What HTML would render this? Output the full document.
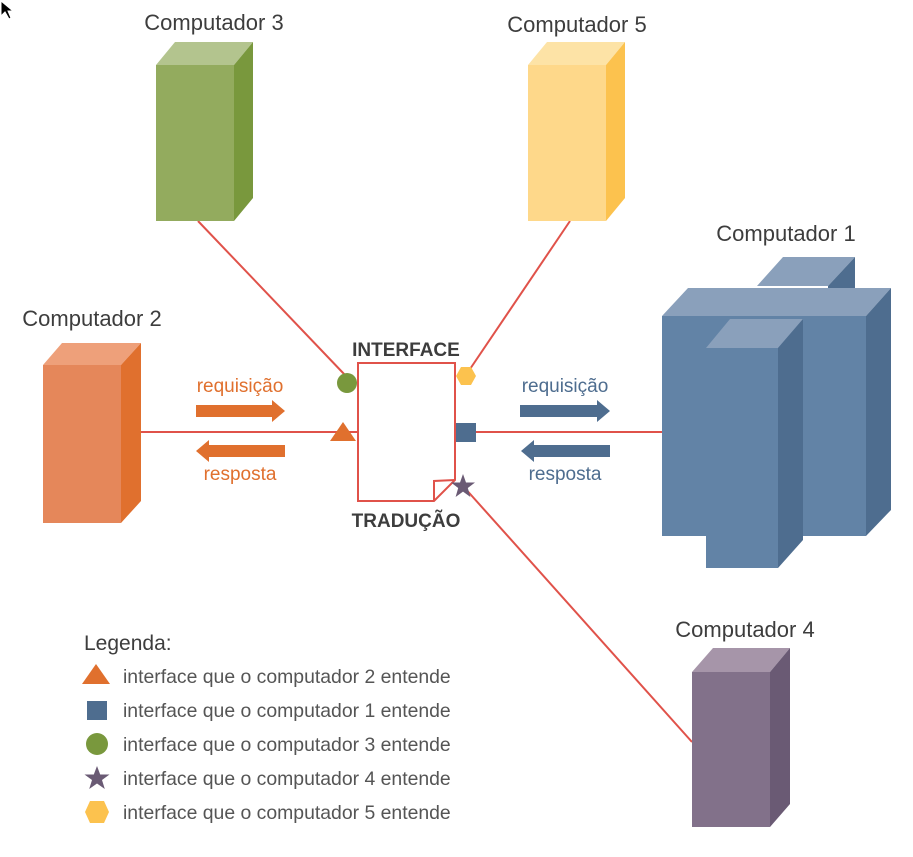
<!DOCTYPE html>
<html><head><meta charset="utf-8"><style>
html,body{margin:0;padding:0;background:#fff;}
svg{display:block;}
text{font-family:"Liberation Sans Narrow","Liberation Sans",sans-serif;}
</style></head><body>
<svg width="913" height="857" viewBox="0 0 913 857" xmlns="http://www.w3.org/2000/svg">
<rect width="913" height="857" fill="#fff"/>
<path d="M1,1 L1,16 L5,12 L9,19 L11,18 L8,11 L13,11 Z" fill="#000" stroke="#fff" stroke-width="1"/>
<g stroke="#e0524a" stroke-width="2" fill="none">
<line x1="198" y1="221" x2="345" y2="375"/>
<line x1="570" y1="221" x2="468" y2="372"/>
<line x1="121" y1="432" x2="358" y2="432"/>
<line x1="476" y1="432" x2="662" y2="432"/>
<line x1="463" y1="486" x2="692" y2="742"/>
</g>
<polygon points="156,65 175,42 253,42 234,65" fill="#b3c48e"/>
<polygon points="234,65 253,42 253,198 234,221" fill="#79983d"/>
<rect x="156" y="65" width="78" height="156" fill="#93ab5e"/>
<polygon points="528,65 547,42 625,42 606,65" fill="#fde3a6"/>
<polygon points="606,65 625,42 625,198 606,221" fill="#fcc24e"/>
<rect x="528" y="65" width="78" height="156" fill="#fed88a"/>
<polygon points="43,365 62,343 141,343 121,365" fill="#eea07a"/>
<polygon points="121,365 141,343 141,501 121,523" fill="#e0702e"/>
<rect x="43" y="365" width="78" height="158" fill="#e5875a"/>
<polygon points="692,672 713,648 790,648 770,672" fill="#a695a9"/>
<polygon points="770,672 790,648 790,804 770,827" fill="#6a5a74"/>
<rect x="692" y="672" width="78" height="155" fill="#82718a"/>
<polygon points="757,286 783,257 855,257 828,286" fill="#8aa0bb"/>
<polygon points="828,286 855,257 855,288 828,288" fill="#4e6d8f"/>
<polygon points="662,316 688,288 891,288 866,316" fill="#8aa0bb"/>
<polygon points="866,316 891,288 891,510 866,536" fill="#4e6d8f"/>
<rect x="662" y="316" width="204" height="220" fill="#6283a6"/>
<polygon points="706,348 730,319 803,319 778,348" fill="#8aa0bb"/>
<polygon points="778,348 803,319 803,540 778,568" fill="#4e6d8f"/>
<rect x="706" y="348" width="72" height="220" fill="#6283a6"/>
<path d="M358,363 L455,363 L455,480 L434,501 L358,501 Z" fill="#fff" stroke="#e0524a" stroke-width="2"/>
<path d="M434,501 L434,481 L455,480" fill="none" stroke="#e0524a" stroke-width="2"/>
<circle cx="347" cy="383" r="10" fill="#79983d"/>
<polygon points="343,422 356,441 330,441" fill="#e0702e"/>
<rect x="456" y="423" width="20" height="19" fill="#4e6d8f"/>
<polygon points="461,367 471,367 476,376 471,385 461,385 456,376" fill="#fcc24e"/>
<polygon points="463,474 466,482.5 475,482.5 467.8,488 470.4,497 463,491.6 455.6,497 458.2,488 451,482.5 460,482.5" fill="#6a5a74"/>
<polygon points="196,405 272,405 272,400 285,411 272,422 272,417 196,417" fill="#e0702e"/>
<polygon points="285,445 209,445 209,440 196,451 209,462 209,457 285,457" fill="#e0702e"/>
<polygon points="520,405 597,405 597,400 610,411 597,422 597,417 520,417" fill="#4e6d8f"/>
<polygon points="610,445 534,445 534,440 521,451 534,462 534,457 610,457" fill="#4e6d8f"/>
<g font-size="22" fill="#3d3d3d" text-anchor="middle">
<text x="214" y="30">Computador 3</text>
<text x="577" y="32">Computador 5</text>
<text x="92" y="326">Computador 2</text>
<text x="786" y="241">Computador 1</text>
<text x="745" y="637">Computador 4</text>
</g>
<g font-size="19" font-weight="bold" fill="#3d3d3d" text-anchor="middle">
<text x="406" y="356">INTERFACE</text>
<text x="406" y="527">TRADUÇÃO</text>
</g>
<g font-size="19" text-anchor="middle">
<text x="240" y="392" fill="#e0702e">requisição</text>
<text x="240" y="480" fill="#e0702e">resposta</text>
<text x="565" y="392" fill="#4e6d8f">requisição</text>
<text x="565" y="480" fill="#4e6d8f">resposta</text>
</g>
<text x="84" y="650" font-size="21" fill="#3d3d3d">Legenda:</text>
<polygon points="96,664 110,684 82,684" fill="#e0702e"/>
<rect x="87" y="701" width="20" height="19" fill="#4e6d8f"/>
<circle cx="97" cy="744" r="11" fill="#79983d"/>
<polygon points="97,766 100.2,774.5 109.5,774.5 102,780 104.8,789 97,783.5 89.2,789 92,780 84.5,774.5 93.8,774.5" fill="#6a5a74"/>
<polygon points="90,801 104,801 109,812 104,823 90,823 85,812" fill="#fcc24e"/>
<g font-size="19.4" fill="#555">
<text x="123" y="683">interface que o computador 2 entende</text>
<text x="123" y="717">interface que o computador 1 entende</text>
<text x="123" y="751">interface que o computador 3 entende</text>
<text x="123" y="785">interface que o computador 4 entende</text>
<text x="123" y="819">interface que o computador 5 entende</text>
</g>
</svg>
</body></html>
